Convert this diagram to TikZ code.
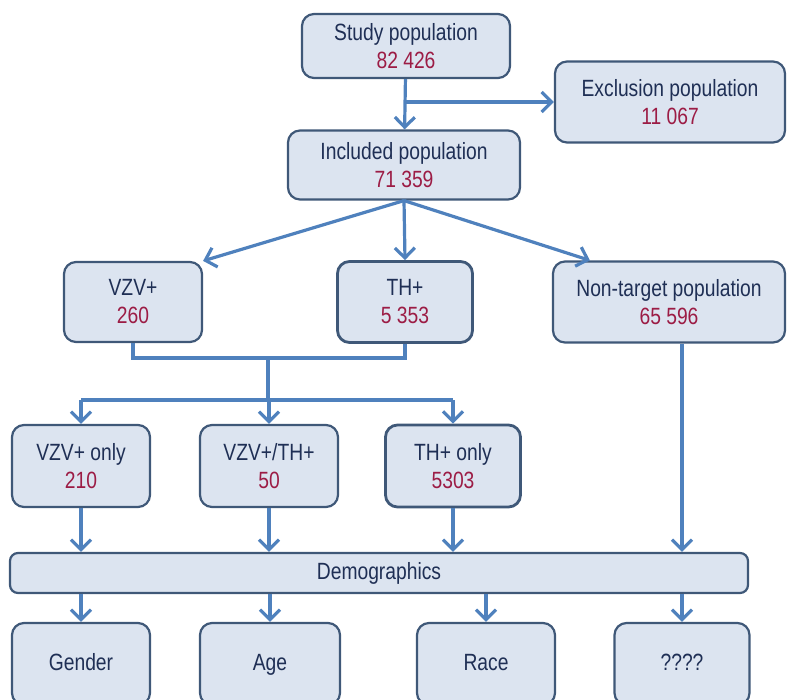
\documentclass[tikz,border=0pt]{standalone}
\usepackage{fontspec}
\setmainfont{Liberation Sans}[FakeStretch=0.82]
\usetikzlibrary{arrows.meta, positioning, calc}

\definecolor{boxfill}{HTML}{DCE4F0}
\definecolor{boxline}{HTML}{3F5878}
\definecolor{arrowblue}{HTML}{4F81BD}
\definecolor{labelnavy}{HTML}{1F2F55}
\definecolor{countred}{HTML}{9C1C45}

\newcommand{\popcount}[2]{#1\\\textcolor{countred}{#2}}

\tikzset{
  popnode/.style={draw=boxline, fill=boxfill, line width=2.2pt, rounded corners=12pt,
    align=center, text=labelnavy, font=\fontsize{23.5}{28}\selectfont, inner sep=0pt},
  itemnode/.style={popnode, text height=17pt, text depth=4pt},
  flow/.style={draw=arrowblue, line width=3.2pt, -{Straight Barb[length=10pt,width=20pt]}},
  busline/.style={draw=arrowblue, line width=3.2pt}
}

\begin{document}
\begin{tikzpicture}[x=1pt, y=-1pt]
    \useasboundingbox (0,0) rectangle (794,699);
    \clip (0,0) rectangle (794,699);

    % Nodes
    \node[popnode, minimum width=208pt, minimum height=64pt] (study) at (406,46) {\popcount{Study population}{82 426}};
    \node[popnode, minimum width=230pt, minimum height=81pt] (excl) at (670,102) {\popcount{Exclusion population}{11 067}};
    \node[popnode, minimum width=232pt, minimum height=69pt] (incl) at (404,165) {\popcount{Included population}{71 359}};

    \node[popnode, minimum width=138pt, minimum height=80pt] (vzv) at (133,302) {\popcount{VZV+}{260}};
    \node[popnode, minimum width=135pt, minimum height=81pt, line width=2.8pt] (th) at (405,302) {\popcount{TH+}{5 353}};
    \node[popnode, minimum width=232pt, minimum height=81pt] (nontgt) at (669,302) {\popcount{Non-target population}{65 596}};

    \node[popnode, minimum width=138pt, minimum height=82pt] (vzvonly) at (81,466) {\popcount{VZV+ only}{210}};
    \node[popnode, minimum width=138pt, minimum height=82pt] (both) at (269,466) {\popcount{VZV+/TH+}{50}};
    \node[popnode, minimum width=135pt, minimum height=82pt, line width=2.8pt] (thonly) at (453,466) {\popcount{TH+ only}{5303}};

    \node[itemnode, minimum width=738pt, minimum height=40pt, rounded corners=8pt] (demo) at (379,573) {Demographics};

    \node[itemnode, minimum width=138pt, minimum height=82pt] (gender) at (81,664) {Gender};
    \node[itemnode, minimum width=140pt, minimum height=82pt] (age) at (270,664) {Age};
    \node[itemnode, minimum width=138pt, minimum height=82pt] (race) at (486,664) {Race};
    \node[itemnode, minimum width=135pt, minimum height=82pt] (quest) at (682,664) {????};

    % Exclusion branch
    \draw[flow] (study) -- (incl);
    \draw[flow] (study.south |- excl.west) -- (excl.west);

    % Included split
    \draw[flow] (incl.south) -- (vzv.north east);
    \draw[flow] (incl.south) -- (th.north);
    \draw[flow] (incl.south) -- ($(nontgt.north west)+(38,0)$);

    % Merge and regroup
    \coordinate (merge) at (268,358);
    \coordinate (bus) at (268,400);
    \draw[busline] (vzv.south) |- (merge) -| (th.south);
    \draw[busline] (merge) -- (bus);
    \draw[busline] (vzvonly.north |- bus) -- (thonly.north |- bus);
    \foreach \grp in {vzvonly, both, thonly} {
        \draw[flow] (\grp.north |- bus) -- (\grp.north);
        \draw[flow] (\grp.south) -- (\grp.south |- demo.north);
    }
    \draw[flow] (nontgt.south -| quest.north) -- (quest.north |- demo.north);

    % Demographic items
    \foreach \item in {gender, age, race, quest}
        \draw[flow] (demo.south -| \item.north) -- (\item.north);
\end{tikzpicture}
\end{document}
